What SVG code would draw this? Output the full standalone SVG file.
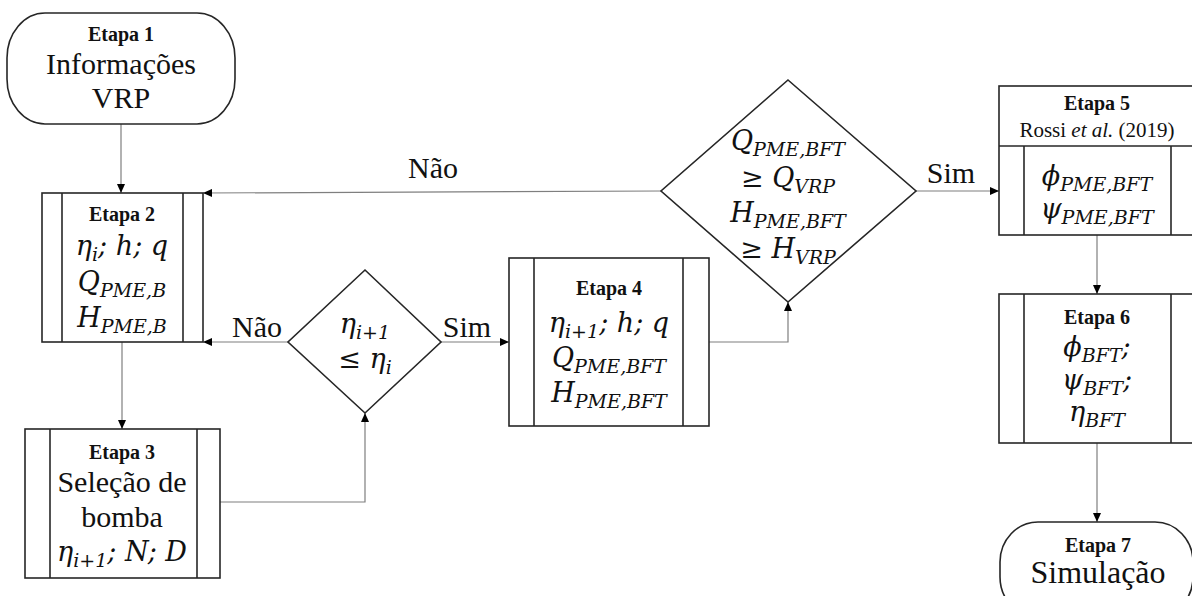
<svg xmlns="http://www.w3.org/2000/svg" width="1192" height="596" viewBox="0 0 1192 596">
<defs>
<marker id="arr" markerUnits="userSpaceOnUse" markerWidth="10" markerHeight="8" refX="9" refY="4" orient="auto">
<path d="M0,0 L9,4 L0,8 Z" fill="#000"/>
</marker>
<style>
.box{fill:#fff;stroke:#262626;stroke-width:1.6}
.ln{fill:none;stroke:#262626;stroke-width:1.6}
.con{fill:none;stroke:#7f7f7f;stroke-width:1.2}
.lbl{font-family:"Liberation Serif","Times New Roman",serif;font-size:20px;font-weight:bold;fill:#111;text-anchor:middle}
.t{font-family:"Liberation Serif","Times New Roman",serif;font-size:30px;fill:#111;text-anchor:middle}
.m{font-family:"DejaVu Serif",serif;font-style:italic;font-size:27px;fill:#111;text-anchor:middle}
.s{font-size:19px}
.cl{font-family:"Liberation Serif","Times New Roman",serif;font-size:30px;fill:#111;text-anchor:middle}
</style>
</defs>
<rect width="1192" height="596" fill="#fff"/>

<g id="connectors">
<line class="con" x1="121" y1="124" x2="121" y2="193" marker-end="url(#arr)"/>
<line class="con" x1="122" y1="342" x2="122" y2="429" marker-end="url(#arr)"/>
<polyline class="con" points="220,502 365,502 365,413" marker-end="url(#arr)"/>
<line class="con" x1="288" y1="342" x2="203" y2="342" marker-end="url(#arr)"/>
<line class="con" x1="441" y1="342" x2="509" y2="342" marker-end="url(#arr)"/>
<polyline class="con" points="709,342 788,342 788,302" marker-end="url(#arr)"/>
<line class="con" x1="661" y1="191" x2="203" y2="193" marker-end="url(#arr)"/>
<line class="con" x1="916" y1="191" x2="999" y2="191" marker-end="url(#arr)"/>
<line class="con" x1="1097" y1="235" x2="1097" y2="294" marker-end="url(#arr)"/>
<line class="con" x1="1097" y1="443" x2="1097" y2="522" marker-end="url(#arr)"/>
<text class="cl" x="257" y="337">Não</text>
<text class="cl" x="467" y="337">Sim</text>
<text class="cl" x="433" y="178">Não</text>
<text class="cl" x="951" y="183">Sim</text>
</g>

<g id="etapa1">
<rect class="box" x="7" y="13" width="228" height="111" rx="38" ry="45"/>
<text class="lbl" x="121" y="41">Etapa 1</text>
<text class="t" x="121" y="74">Informações</text>
<text class="t" x="121" y="108">VRP</text>
</g>

<g id="etapa2">
<rect class="box" x="42" y="193" width="161" height="149"/>
<line class="ln" x1="62" y1="193" x2="62" y2="342"/>
<line class="ln" x1="183" y1="193" x2="183" y2="342"/>
<text class="lbl" x="122" y="221">Etapa 2</text>
<text class="m" x="122" y="255">η<tspan class="s" dy="6">i</tspan><tspan dy="-6">; h; q</tspan></text>
<text class="m" x="122" y="291">Q<tspan class="s" dy="6">PME,B</tspan></text>
<text class="m" x="122" y="327">H<tspan class="s" dy="6">PME,B</tspan></text>
</g>

<g id="etapa3">
<rect class="box" x="25" y="429" width="195" height="149"/>
<line class="ln" x1="50" y1="429" x2="50" y2="578"/>
<line class="ln" x1="197" y1="429" x2="197" y2="578"/>
<text class="lbl" x="122" y="459">Etapa 3</text>
<text class="t" x="122" y="492">Seleção de</text>
<text class="t" x="122" y="527">bomba</text>
<text class="m" x="122" y="561">η<tspan class="s" dy="6">i+1</tspan><tspan dy="-6">; N; D</tspan></text>
</g>

<g id="decisao1">
<polygon class="box" points="365,270 441,342 365,413 288,342"/>
<text class="m" x="365" y="333">η<tspan class="s" dy="6">i+1</tspan></text>
<text class="m" x="365" y="368">≤ η<tspan class="s" dy="6">i</tspan></text>
</g>

<g id="etapa4">
<rect class="box" x="509" y="258" width="200" height="168"/>
<line class="ln" x1="534" y1="258" x2="534" y2="426"/>
<line class="ln" x1="683" y1="258" x2="683" y2="426"/>
<text class="lbl" x="609" y="295">Etapa 4</text>
<text class="m" x="609" y="332">η<tspan class="s" dy="6">i+1</tspan><tspan dy="-6">; h; q</tspan></text>
<text class="m" x="609" y="367">Q<tspan class="s" dy="6">PME,BFT</tspan></text>
<text class="m" x="609" y="402">H<tspan class="s" dy="6">PME,BFT</tspan></text>
</g>

<g id="decisao2">
<polygon class="box" points="788,80 916,191 788,302 661,191"/>
<text class="m" x="788" y="150">Q<tspan class="s" dy="6">PME,BFT</tspan></text>
<text class="m" x="788" y="187">≥ Q<tspan class="s" dy="6">VRP</tspan></text>
<text class="m" x="788" y="222">H<tspan class="s" dy="6">PME,BFT</tspan></text>
<text class="m" x="788" y="258">≥ H<tspan class="s" dy="6">VRP</tspan></text>
</g>

<g id="etapa5">
<rect class="box" x="999" y="86" width="197" height="149"/>
<line class="ln" x1="999" y1="146" x2="1196" y2="146"/>
<line class="ln" x1="1024" y1="146" x2="1024" y2="235"/>
<line class="ln" x1="1171" y1="146" x2="1171" y2="235"/>
<text class="lbl" x="1097" y="110">Etapa 5</text>
<text x="1097" y="137" font-family="Liberation Serif, Times New Roman, serif" font-size="21" fill="#111" text-anchor="middle">Rossi <tspan font-style="italic">et al.</tspan> (2019)</text>
<text class="m" x="1097" y="185">ϕ<tspan class="s" dy="6">PME,BFT</tspan></text>
<text class="m" x="1097" y="218">ψ<tspan class="s" dy="6">PME,BFT</tspan></text>
</g>

<g id="etapa6">
<rect class="box" x="999" y="294" width="197" height="149"/>
<line class="ln" x1="1024" y1="294" x2="1024" y2="443"/>
<line class="ln" x1="1171" y1="294" x2="1171" y2="443"/>
<text class="lbl" x="1097" y="324">Etapa 6</text>
<text class="m" x="1097" y="356">ϕ<tspan class="s" dy="6">BFT</tspan><tspan dy="-6">;</tspan></text>
<text class="m" x="1097" y="389">ψ<tspan class="s" dy="6">BFT</tspan><tspan dy="-6">;</tspan></text>
<text class="m" x="1097" y="421">η<tspan class="s" dy="6">BFT</tspan></text>
</g>

<g id="etapa7">
<rect class="box" x="1000" y="522" width="193" height="95" rx="38" ry="40"/>
<text class="lbl" x="1098" y="552">Etapa 7</text>
<text class="t" x="1098" y="583" style="font-size:32px">Simulação</text>
</g>
</svg>
